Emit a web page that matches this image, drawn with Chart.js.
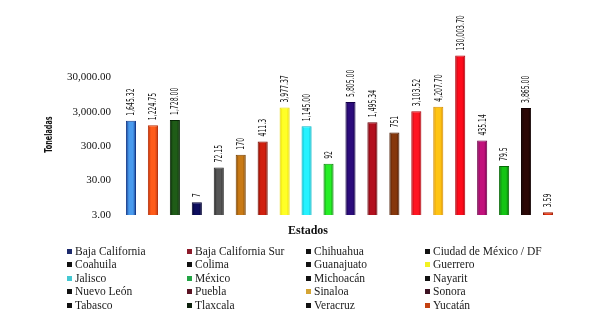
<!DOCTYPE html>
<html>
<head>
<meta charset="utf-8">
<script src="https://cdn.jsdelivr.net/npm/chart.js@4/dist/chart.umd.min.js"></script>
<style>
  html, body { margin: 0; padding: 0; background: #fff; }
  #wrap { position: relative; width: 589px; height: 322px; overflow: hidden; }
  #c { position: absolute; left: 0; top: 0; }
  #xtitle { position: absolute; left: 258px; width: 100px; top: 223px; text-align: center;
    font: bold 12px "Liberation Serif", "Times New Roman", serif; color: #111; }
  .lg { position: absolute; font: 11.5px "Liberation Serif", "Times New Roman", serif; color: #1a1a1a;
    white-space: nowrap; line-height: 13px; height: 13px; }
  .lg i { display: inline-block; width: 5px; height: 5px; margin-right: 3px; vertical-align: 1px; }
</style>
</head>
<body>
<div id="wrap">
  <canvas id="c" width="589" height="322"></canvas>
  <div id="xtitle">Estados</div>
</div>
<script>
const categories = ["Baja California","Baja California Sur","Chihuahua","Ciudad de México / DF",
  "Coahuila","Colima","Guanajuato","Guerrero","Jalisco","México","Michoacán","Nayarit",
  "Nuevo León","Puebla","Sinaloa","Sonora","Tabasco","Tlaxcala","Veracruz","Yucatán"];
const legendNames = ["Baja California","Baja California Sur","Chihuahua","Ciudad de México / DF",
  "Coahuila","Colima","Guanajuato","Guerrero","Jalisco","México","Michoacán","Nayarit",
  "Nuevo León","Puebla","Sinaloa","Sonora","Tabasco","Tlaxcala","Veracruz","Yucatán"];
const values = [1645.32, 1224.75, 1728.00, 7, 72.15, 170, 411.3, 3977.37, 1145.00, 92,
  5805.00, 1495.34, 751, 3103.52, 4207.70, 130003.70, 435.14, 79.5, 3865.00, 3.59];
const valueLabels = ["1,645.32","1,224.75","1,728.00","7","72.15","170","411.3","3,977.37",
  "1,145.00","92","5,805.00","1,495.34","751","3,103.52","4,207.70","130,003.70","435.14",
  "79.5","3,865.00","3.59"];
const yTicks = [3, 30, 300, 3000, 30000];
const yTitle = "Toneladas";
const barColors = ["#4a9bee","#ff5c1a","#1f5c17","#0d0d5e","#565656","#c97a16","#d1200f",
  "#ffff26","#26f2ff","#26ee26","#2c0c7c","#b3101f","#86370c","#ff1522","#ffc414","#ff0c1c",
  "#c2127c","#14c414","#2c0806","#e2320f"];
const barBorders = ["#163c8c","#b8300a","#082606","#000030","#222222","#7a4200","#7a0c00",
  "#e6d800","#00b8c8","#0a8a0a","#14004a","#6a0008","#4a1a02","#b0000a","#d89000","#b0000a",
  "#70004a","#066a06","#100000","#a01a00"];
const legendColors = ["#1c2a6c","#8c1a2a","#111111","#111111","#111111","#111111","#111111",
  "#f2f222","#44c8d2","#22a444","#111111","#111111","#111111","#5a1222","#d4a434","#3c1222",
  "#111111","#0c200c","#111111","#c44212"];

const textPlugin = {
  id: 'texts',
  afterDatasetsDraw(chart) {
    const ctx = chart.ctx;
    const meta = chart.getDatasetMeta(0);
    ctx.save();
    ctx.fillStyle = '#111';
    ctx.font = '11px "DejaVu Sans Condensed", "Liberation Sans Narrow", sans-serif';
    ctx.textAlign = 'left';
    ctx.textBaseline = 'middle';
    meta.data.forEach((bar, i) => {
      ctx.save();
      ctx.translate(bar.x + 0.5, bar.y - 5);
      ctx.rotate(-Math.PI / 2);
      ctx.scale(0.62, 1);
      ctx.fillText(valueLabels[i], 0, 0);
      ctx.restore();
    });
    const ca = chart.chartArea;
    ctx.save();
    ctx.font = 'bold 10px "DejaVu Sans Condensed", "Liberation Sans Narrow", sans-serif';
    ctx.textAlign = 'center';
    ctx.textBaseline = 'middle';
    ctx.translate(49, (ca.top + ca.bottom) / 2);
    ctx.rotate(-Math.PI / 2);
    ctx.scale(0.72, 1);
    ctx.fillText(yTitle, 0, 0);
    ctx.restore();
    ctx.restore();
  }
};

function barFill(c) {
  const i = c.dataIndex;
  const chart = c.chart;
  const xs = chart.scales && chart.scales.x;
  if (!xs || !chart.chartArea || i === undefined) return barColors[i] || '#888';
  const x = xs.getPixelForValue(i);
  const g = chart.ctx.createLinearGradient(x - 5, 0, x + 5, 0);
  g.addColorStop(0, barBorders[i]);
  g.addColorStop(0.3, barColors[i]);
  g.addColorStop(0.7, barColors[i]);
  g.addColorStop(1, barBorders[i]);
  return g;
}

new Chart(document.getElementById('c'), {
  type: 'bar',
  data: {
    labels: categories,
    datasets: [{
      data: values,
      backgroundColor: barFill,
      borderColor: barBorders,
      borderWidth: 1,
      categoryPercentage: 1,
      barPercentage: 0.46
    }]
  },
  options: {
    responsive: false,
    animation: false,
    layout: { padding: { left: 39, right: 30, top: 54, bottom: 107 } },
    plugins: { legend: { display: false }, tooltip: { enabled: false } },
    scales: {
      x: { display: false },
      y: {
        type: 'logarithmic',
        min: 3,
        max: 143000,
        grid: { display: false, drawTicks: false },
        border: { display: false },
        afterBuildTicks(scale) { scale.ticks = yTicks.map(v => ({ value: v })); },
        afterFit(scale) { scale.width = 81; },
        ticks: {
          padding: 9,
          color: '#111',
          font: { family: '"Liberation Serif", "Times New Roman", serif', size: 11 },
          callback: v => Number(v).toLocaleString('en-US', { minimumFractionDigits: 2, maximumFractionDigits: 2 })
        },
        title: { display: false }
      }
    }
  },
  plugins: [textPlugin]
});

const wrap = document.getElementById('wrap');
const colX = [67, 187, 306, 425];
const rowY = [244.5, 258, 271.5, 285, 298.5];
legendNames.forEach((name, i) => {
  const d = document.createElement('div');
  d.className = 'lg';
  d.style.left = colX[i % 4] + 'px';
  d.style.top = rowY[Math.floor(i / 4)] + 'px';
  const b = document.createElement('i');
  b.style.background = legendColors[i];
  d.appendChild(b);
  d.appendChild(document.createTextNode(name));
  wrap.appendChild(d);
});
</script>
</body>
</html>
